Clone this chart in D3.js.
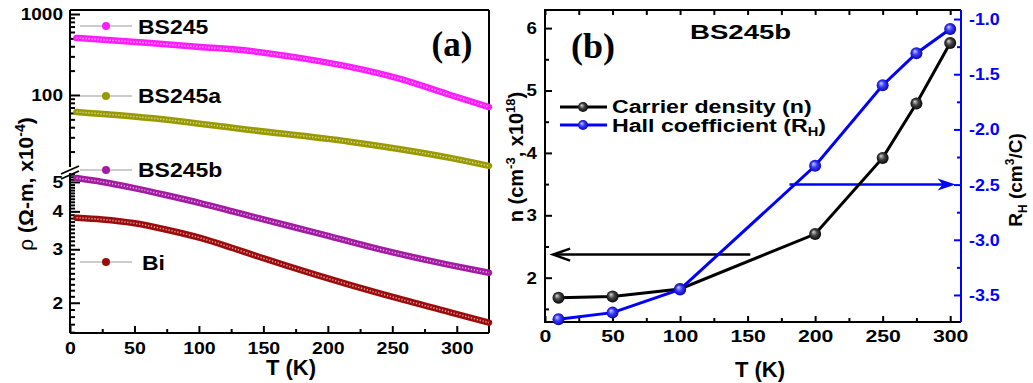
<!DOCTYPE html>
<html>
<head>
<meta charset="utf-8">
<script src="https://cdn.jsdelivr.net/npm/d3@7/dist/d3.min.js"></script>
<style>
  body { margin: 0; background: #fff; }
  svg { display: block; }
  text { font-family: "Liberation Sans", Arial, sans-serif; font-weight: bold; }
</style>
</head>
<body>
<svg id="chart" width="1033" height="383"></svg>
<script>
// ---- panel (a): resistivity vs T ----
const seriesNames  = ['BS245', 'BS245a', 'BS245b', 'Bi'];
const seriesColors = ['#ff1cff', '#999900', '#a31aa3', '#9c0c0c'];

const tempBS245  = [5, 62, 101, 140, 178, 217, 256, 295, 325];
const rhoBS245   = [506, 438, 392, 349, 287, 222, 158, 100, 71];
const tempBS245a = [5, 62, 140, 217, 295, 325];
const rhoBS245a  = [61.7, 52, 37, 26.5, 16.7, 13.3];
const tempBS245b = [5, 25, 49, 75, 101, 126, 147, 191, 243, 295, 325];
const rhoBS245b  = [5.15, 5.0, 4.78, 4.52, 4.26, 4.0, 3.79, 3.40, 2.98, 2.66, 2.51];
const tempBi     = [5, 25, 49, 75, 101, 126, 147, 191, 243, 295, 325];
const rhoBi      = [3.81, 3.76, 3.66, 3.48, 3.27, 3.03, 2.83, 2.47, 2.13, 1.86, 1.72];

const tempTicksA   = [0, 50, 100, 150, 200, 250, 300];
const rhoTicksHigh = [100, 1000];
const rhoTicksLow  = [2, 3, 4, 5];

// ---- panel (b): carrier density and Hall coefficient ----
const tempB   = [10, 50, 100, 200, 250, 275, 300];
const density = [1.68, 1.70, 1.82, 2.70, 3.92, 4.79, 5.76];
const hall    = [-3.72, -3.66, -3.45, -2.33, -1.60, -1.31, -1.09];

const tempTicksB   = [0, 50, 100, 150, 200, 250, 300];
const densityTicks = [2, 3, 4, 5, 6];
const hallTicks    = [-3.5, -3.0, -2.5, -2.0, -1.5, -1.0];

// arrows: [T from, value, T to]
const densityArrow = [152, 2.37, 6];
const hallArrow    = [181, -2.5, 304];

const svg = d3.select('#chart');
svg.append('rect').attr('width', 1033).attr('height', 383).attr('fill', '#fff');

function styleAxis(g, size, color) {
  g.attr('font-family', '"Liberation Sans", Arial, sans-serif')
    .attr('font-size', size).attr('font-weight', 'bold')
    .attr('color', color || '#000');
  g.select('.domain').remove();
  g.selectAll('line').attr('stroke-width', 2);
}
// origin's fonts look wider than arial, squeeze them out a bit
function stretch(sel, sx) {
  sel.each(function () {
    const t = d3.select(this);
    const x = +t.attr('x') || 0;
    t.attr('x', x / sx).attr('transform', `scale(${sx},1)`);
  });
}
function wideText(x, y, sx, str, size, anchor) {
  return svg.append('text')
    .attr('transform', `translate(${x},${y}) scale(${sx},1)`)
    .attr('font-size', size).attr('text-anchor', anchor || 'start')
    .text(str);
}

// ================= panel (a) =================
const xA    = d3.scaleLinear().domain([0, 325]).range([70, 489]);
const yHigh = d3.scaleLog().domain([12.9, 1121]).range([167, 10]);
const yLow  = d3.scaleLog().domain([1.59, 5.35]).range([333, 173]);

const gA = svg.append('g');

gA.append('g').attr('transform', `translate(0,${yLow.range()[0]})`)
  .call(d3.axisBottom(xA).tickValues(tempTicksA).tickSize(-7).tickPadding(9))
  .call(g => styleAxis(g, 17))
  .call(g => stretch(g.selectAll('text'), 1.15));
gA.append('g').attr('transform', `translate(0,${yLow.range()[0]})`)
  .call(d3.axisBottom(xA).tickValues(d3.range(25, 325, 50)).tickSize(-4).tickFormat(''))
  .call(g => styleAxis(g, 17));

gA.append('g').attr('transform', `translate(${xA(0)},0)`)
  .call(d3.axisLeft(yHigh).tickValues(rhoTicksHigh).tickFormat(d3.format('d')).tickSize(-10).tickPadding(7))
  .call(g => styleAxis(g, 17))
  .call(g => stretch(g.selectAll('text'), 1.12));
const minorHigh = [20, 30, 40, 50, 60, 70, 80, 90, 200, 300, 400, 500, 600, 700, 800, 900];
gA.append('g').attr('transform', `translate(${xA(0)},0)`)
  .call(d3.axisLeft(yHigh).tickValues(minorHigh).tickSize(-5).tickFormat(''))
  .call(g => styleAxis(g, 17));

gA.append('g').attr('transform', `translate(${xA(0)},0)`)
  .call(d3.axisLeft(yLow).tickValues(rhoTicksLow).tickFormat(d3.format('d')).tickSize(-10).tickPadding(7))
  .call(g => styleAxis(g, 17))
  .call(g => stretch(g.selectAll('text'), 1.12));
const minorLow = d3.range(16, 54).map(d => d / 10).filter(d => d % 1 !== 0);
gA.append('g').attr('transform', `translate(${xA(0)},0)`)
  .call(d3.axisLeft(yLow).tickValues(minorLow).tickSize(-5).tickFormat(''))
  .call(g => styleAxis(g, 17));

// frame with a broken left axis
const frameA = [
  [xA(0), 10, xA(325), 10],
  [xA(325), 10, xA(325), 333],
  [xA(0), 333, xA(325), 333],
  [xA(0), 10, xA(0), 167],
  [xA(0), 173, xA(0), 333]
];
gA.selectAll('line.frame').data(frameA).enter().append('line')
  .attr('x1', d => d[0]).attr('y1', d => d[1]).attr('x2', d => d[2]).attr('y2', d => d[3])
  .attr('stroke', '#000').attr('stroke-width', 2);
[[61, 174, 79, 166], [61, 179, 79, 171]].forEach(s => {
  gA.append('line').attr('x1', s[0]).attr('y1', s[1]).attr('x2', s[2]).attr('y2', s[3])
    .attr('stroke', '#000').attr('stroke-width', 1.8);
});

// curves
const curvesA = [
  { t: tempBS245,  r: rhoBS245,  y: yHigh },
  { t: tempBS245a, r: rhoBS245a, y: yHigh },
  { t: tempBS245b, r: rhoBS245b, y: yLow },
  { t: tempBi,     r: rhoBi,     y: yLow }
];
curvesA.forEach((c, i) => {
  const pts = c.t.map((t, j) => [t, c.r[j]]);
  const line = d3.line().x(d => xA(d[0])).y(d => c.y(d[1])).curve(d3.curveMonotoneX);
  gA.append('path').attr('d', line(pts)).attr('fill', 'none')
    .attr('stroke', seriesColors[i]).attr('stroke-width', 6.5).attr('stroke-linecap', 'round');
  gA.append('path').attr('d', line(pts)).attr('fill', 'none')
    .attr('stroke', '#fff').attr('stroke-width', 1.6).attr('stroke-opacity', 0.6)
    .attr('stroke-dasharray', '1.3 1.7');
});

// legend (a)
const legendA = [
  { y: 26, ty: 34, tx: 138 },
  { y: 96, ty: 103, tx: 138 },
  { y: 170, ty: 177, tx: 138 },
  { y: 262, ty: 270, tx: 142 }
];
legendA.forEach((p, i) => {
  gA.append('line').attr('x1', 80).attr('x2', 132).attr('y1', p.y).attr('y2', p.y)
    .attr('stroke', '#999').attr('stroke-width', 1);
  gA.append('circle').attr('cx', 106).attr('cy', p.y).attr('r', 4).attr('fill', seriesColors[i]);
  wideText(p.tx, p.ty, 1.15, seriesNames[i], 20);
});

wideText(291, 375, 1, 'T (K)', 22, 'middle');
svg.append('text').attr('x', 452).attr('y', 56).attr('font-size', 35)
  .attr('text-anchor', 'middle').style('font-family', '"Liberation Serif", "Times New Roman", serif')
  .text('(a)');

const labA = svg.append('text').attr('transform', 'translate(33,184) rotate(-90)')
  .attr('font-size', 21).attr('text-anchor', 'middle');
labA.append('tspan').attr('font-weight', 'normal').text('ρ');
labA.append('tspan').text(' (Ω-m, x10');
labA.append('tspan').attr('font-size', 14).attr('dy', -8).text('-4');
labA.append('tspan').attr('dy', 8).text(')');

// ================= panel (b) =================
const xB = d3.scaleLinear().domain([0, 308]).range([545, 961]);
const yN = d3.scaleLinear().domain([1.29, 6.29]).range([322, 10]);
const yR = d3.scaleLinear().domain([-3.745, -0.918]).range([322, 10]);

const defs = svg.append('defs');
function sphere(id, hi, mid, lo) {
  const g = defs.append('radialGradient').attr('id', id)
    .attr('cx', '50%').attr('cy', '50%').attr('r', '55%').attr('fx', '35%').attr('fy', '32%');
  g.append('stop').attr('offset', '0%').attr('stop-color', hi);
  g.append('stop').attr('offset', '45%').attr('stop-color', mid);
  g.append('stop').attr('offset', '100%').attr('stop-color', lo);
}
sphere('ballBlack', '#d8d8d8', '#444', '#000');
sphere('ballBlue', '#d0d0ff', '#3a3aff', '#0000a0');

const gB = svg.append('g');

gB.append('g').attr('transform', `translate(0,${yN.range()[0]})`)
  .call(d3.axisBottom(xB).tickValues(tempTicksB).tickSize(-6).tickPadding(8))
  .call(g => styleAxis(g, 17))
  .call(g => stretch(g.selectAll('text'), 1.25));
gB.append('g').attr('transform', `translate(0,${yN.range()[0]})`)
  .call(d3.axisBottom(xB).tickValues(d3.range(25, 308, 50)).tickSize(-4).tickFormat(''))
  .call(g => styleAxis(g, 17));
gB.append('g').attr('transform', `translate(0,${yN.range()[1]})`)
  .call(d3.axisTop(xB).tickValues(d3.range(0, 308, 25)).tickSize(-5).tickFormat(''))
  .call(g => styleAxis(g, 17));

gB.append('g').attr('transform', `translate(${xB(0)},0)`)
  .call(d3.axisLeft(yN).tickValues(densityTicks).tickFormat(d3.format('d')).tickSize(-7).tickPadding(8))
  .call(g => styleAxis(g, 17))
  .call(g => stretch(g.selectAll('text'), 1.1));
gB.append('g').attr('transform', `translate(${xB(0)},0)`)
  .call(d3.axisLeft(yN).tickValues([1.5, 2.5, 3.5, 4.5, 5.5]).tickSize(-4).tickFormat(''))
  .call(g => styleAxis(g, 17));

gB.append('g').attr('transform', `translate(${xB(308)},0)`)
  .call(d3.axisRight(yR).tickValues(hallTicks).tickFormat(d => d.toFixed(1)).tickSize(-7).tickPadding(8))
  .call(g => styleAxis(g, 17, '#0000ff'))
  .call(g => stretch(g.selectAll('text'), 1.05));
gB.append('g').attr('transform', `translate(${xB(308)},0)`)
  .call(d3.axisRight(yR).tickValues([-3.25, -2.75, -2.25, -1.75, -1.25]).tickSize(-4).tickFormat(''))
  .call(g => styleAxis(g, 17, '#0000ff'));

// frame
gB.append('path')
  .attr('d', `M${xB(308)},${yN(1.29)}H${xB(0)}V${yN(6.29)}H${xB(308)}`)
  .attr('fill', 'none').attr('stroke', '#000').attr('stroke-width', 2);
gB.append('line').attr('x1', xB(308)).attr('x2', xB(308)).attr('y1', yN(6.29)).attr('y2', yN(1.29))
  .attr('stroke', '#0000ff').attr('stroke-width', 2);

// arrows
{
  const [t0, v, t1] = densityArrow;
  const x0 = xB(t0), x1 = xB(t1), y = yN(v);
  gB.append('line').attr('x1', x0).attr('x2', x1 + 2).attr('y1', y).attr('y2', y)
    .attr('stroke', '#000').attr('stroke-width', 2.5);
  gB.append('path').attr('d', `M${x1 + 17},${y - 6}L${x1},${y}L${x1 + 17},${y + 6}`)
    .attr('fill', 'none').attr('stroke', '#000').attr('stroke-width', 2.5);
}
{
  const [t0, v, t1] = hallArrow;
  const x0 = xB(t0), x1 = xB(t1), y = yR(v);
  gB.append('line').attr('x1', x0).attr('x2', x1 - 8).attr('y1', y).attr('y2', y)
    .attr('stroke', '#0000ff').attr('stroke-width', 2.5);
  gB.append('path').attr('d', `M${x1},${y}L${x1 - 18},${y - 6}L${x1 - 13},${y}L${x1 - 18},${y + 6}Z`)
    .attr('fill', '#0000ff');
}

// series
const nPts = tempB.map((t, i) => [t, density[i]]);
const rPts = tempB.map((t, i) => [t, hall[i]]);
gB.append('path').attr('d', d3.line().x(d => xB(d[0])).y(d => yN(d[1]))(nPts))
  .attr('fill', 'none').attr('stroke', '#000').attr('stroke-width', 3);
gB.selectAll('circle.n').data(nPts).enter().append('circle')
  .attr('cx', d => xB(d[0])).attr('cy', d => yN(d[1])).attr('r', 6).attr('fill', 'url(#ballBlack)');
gB.append('path').attr('d', d3.line().x(d => xB(d[0])).y(d => yR(d[1]))(rPts))
  .attr('fill', 'none').attr('stroke', '#0000ff').attr('stroke-width', 3);
gB.selectAll('circle.r').data(rPts).enter().append('circle')
  .attr('cx', d => xB(d[0])).attr('cy', d => yR(d[1])).attr('r', 6).attr('fill', 'url(#ballBlue)');

// legend (b)
[[107, '#000', 'url(#ballBlack)'], [125, '#0000ff', 'url(#ballBlue)']].forEach(([y, c, f]) => {
  gB.append('line').attr('x1', 560).attr('x2', 607).attr('y1', y).attr('y2', y)
    .attr('stroke', c).attr('stroke-width', 3);
  gB.append('circle').attr('cx', 583).attr('cy', y).attr('r', 5).attr('fill', f);
});
wideText(612, 113, 1.22, 'Carrier density (n)', 19);
const hallLab = svg.append('text').attr('transform', 'translate(612,132) scale(1.22,1)').attr('font-size', 19);
hallLab.append('tspan').text('Hall coefficient (R');
hallLab.append('tspan').attr('font-size', 12).attr('dy', 4).text('H');
hallLab.append('tspan').attr('dy', -4).text(')');

wideText(690, 39, 1.38, 'BS245b', 20);
svg.append('text').attr('x', 593).attr('y', 58).attr('font-size', 36)
  .attr('text-anchor', 'middle').style('font-family', '"Liberation Serif", "Times New Roman", serif')
  .text('(b)');
wideText(760, 377, 1, 'T (K)', 22, 'middle');

const labN = svg.append('text').attr('transform', 'translate(523,157) rotate(-90)')
  .attr('font-size', 20).attr('text-anchor', 'middle');
labN.append('tspan').text('n (cm');
labN.append('tspan').attr('font-size', 13).attr('dy', -8).text('-3');
labN.append('tspan').attr('dy', 8).text(', x10');
labN.append('tspan').attr('font-size', 13).attr('dy', -8).text('18');
labN.append('tspan').attr('dy', 8).text(')');

const labR = svg.append('text').attr('transform', 'translate(1022,180) rotate(-90)')
  .attr('font-size', 19).attr('text-anchor', 'middle');
labR.append('tspan').text('R');
labR.append('tspan').attr('font-size', 12).attr('dy', 5).text('H');
labR.append('tspan').attr('dy', -5).text(' (cm');
labR.append('tspan').attr('font-size', 12).attr('dy', -8).text('3');
labR.append('tspan').attr('dy', 8).text('/C)');
</script>
</body>
</html>
